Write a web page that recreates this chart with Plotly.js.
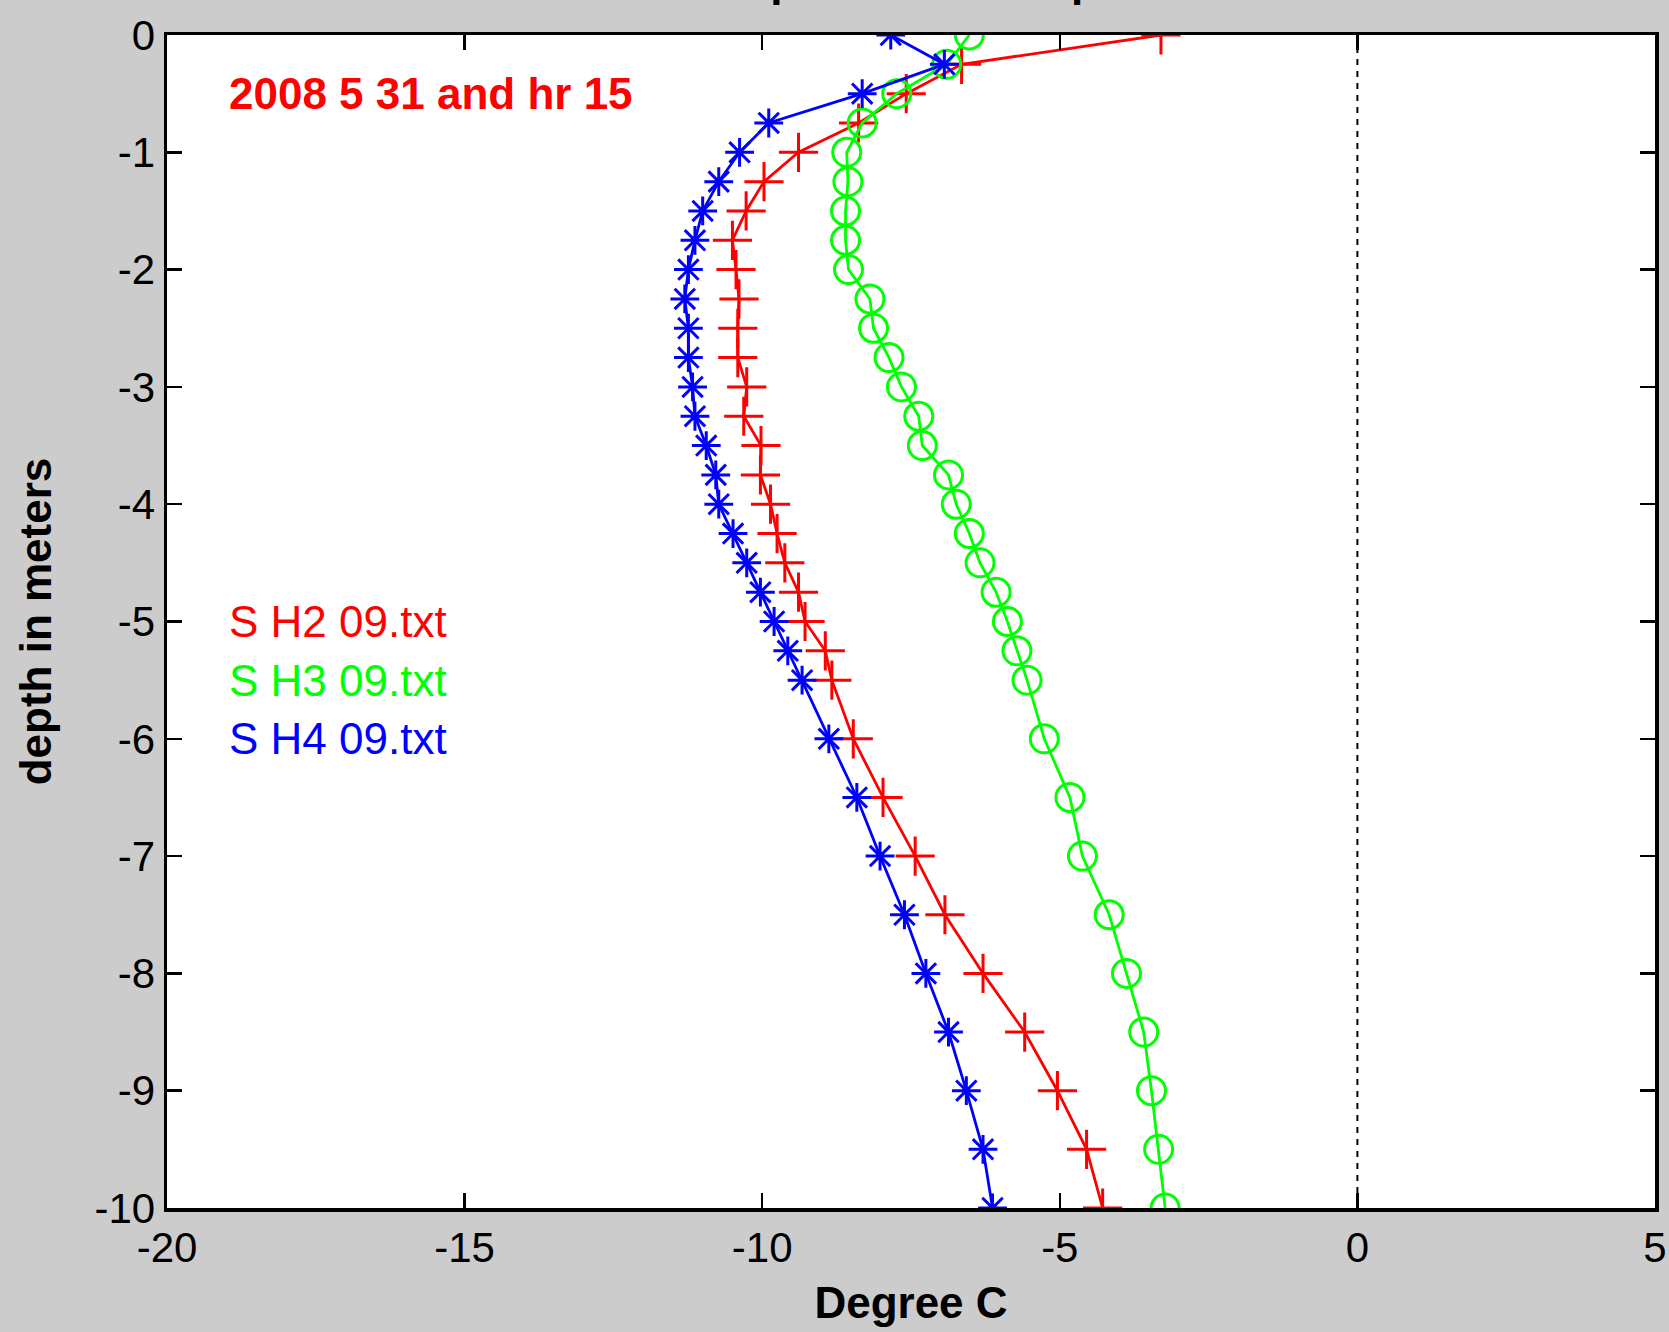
<!DOCTYPE html>
<html>
<head>
<meta charset="utf-8">
<script src="https://cdn.plot.ly/plotly-3.0.1.min.js"></script>
<style>html,body{margin:0;padding:0;background:#cccccc;}#chart{width:1669px;height:1332px;}</style>
</head>
<body>
<div id="chart"></div>
<script>
// depths (m)
const depth = [0,-0.25,-0.5,-0.75,-1,-1.25,-1.5,-1.75,-2,-2.25,-2.5,-2.75,-3,-3.25,-3.5,-3.75,-4,-4.25,-4.5,-4.75,-5,-5.25,-5.5,-6,-6.5,-7,-7.5,-8,-8.5,-9,-9.5,-10];
// temperatures (degree C)
const tempH2 = [-3.3,-6.65,-7.58,-8.38,-9.39,-9.97,-10.27,-10.5,-10.44,-10.39,-10.41,-10.41,-10.26,-10.31,-10.02,-10.03,-9.86,-9.75,-9.62,-9.39,-9.28,-8.94,-8.83,-8.47,-7.97,-7.43,-6.93,-6.29,-5.59,-5.04,-4.55,-4.28];
const tempH3 = [-6.52,-6.9,-7.74,-8.32,-8.58,-8.56,-8.6,-8.6,-8.55,-8.19,-8.13,-7.87,-7.66,-7.37,-7.31,-6.87,-6.74,-6.52,-6.34,-6.07,-5.88,-5.72,-5.55,-5.26,-4.83,-4.62,-4.17,-3.88,-3.59,-3.46,-3.34,-3.23];
const tempH4 = [-7.84,-6.94,-8.32,-9.89,-10.38,-10.73,-11.0,-11.13,-11.24,-11.3,-11.24,-11.24,-11.17,-11.13,-10.94,-10.78,-10.73,-10.49,-10.26,-10.03,-9.8,-9.57,-9.33,-8.88,-8.41,-8.02,-7.61,-7.25,-6.87,-6.57,-6.29,-6.13];
const seriesNames = ["S H2 09.txt","S H3 09.txt","S H4 09.txt"];
const seriesLabelDepths = [-5,-5.5,-6];
const seriesLabelX = -19;
const dateLabel = "2008 5 31 and hr 15";
const dateLabelPos = [-19,-0.5];
const zeroLineX = [0,0];
const zeroLineY = [0,-10];
const xTickVals = [-20,-15,-10,-5,0,5];
const xTickText = ["-20","-15","-10","-5","0","5"];
const yTickVals = [0,-1,-2,-3,-4,-5,-6,-7,-8,-9,-10];
const yTickText = ["0","-1","-2","-3","-4","-5","-6","-7","-8","-9","-10"];
const chartTitle = "Temperature vs depth";
const xTitle = "Degree C";
const yTitle = "depth in meters";

const colors = ["#ff0000","#00ff00","#0000ff"];
const FONT = "Liberation Sans, Arial, Helvetica, sans-serif";

const traces = [
  {x: zeroLineX, y: zeroLineY, mode: "lines", line: {color: "#000", width: 2, dash: "6px,6px"}, hoverinfo: "skip", showlegend: false},
  {x: tempH2, y: depth, name: seriesNames[0], mode: "lines+markers", line: {color: colors[0], width: 2.8},
   marker: {symbol: "cross-thin-open", size: 28, color: colors[0], line: {color: colors[0], width: 3}}},
  {x: tempH3, y: depth, name: seriesNames[1], mode: "lines+markers", line: {color: colors[1], width: 2.8},
   marker: {symbol: "circle-open", size: 28, color: colors[1], line: {color: colors[1], width: 3}}},
  {x: tempH4, y: depth, name: seriesNames[2], mode: "lines+markers", line: {color: colors[2], width: 2.8},
   marker: {symbol: "asterisk-open", size: 24, color: colors[2], line: {color: colors[2], width: 3}}}
];

const annotations = [
  {x: 0.5, y: 1.024, xref: "paper", yref: "paper", text: "<b>" + chartTitle + "</b>", showarrow: false,
   xanchor: "center", yanchor: "bottom", font: {family: FONT, size: 44, color: "#000"}},
  {x: dateLabelPos[0], y: dateLabelPos[1], xref: "x", yref: "y", text: "<b>" + dateLabel + "</b>", showarrow: false,
   xanchor: "left", yanchor: "middle", font: {family: FONT, size: 44, color: colors[0]}}
];
seriesNames.forEach((n, i) => {
  annotations.push({x: seriesLabelX, y: seriesLabelDepths[i], xref: "x", yref: "y", text: n, showarrow: false,
    xanchor: "left", yanchor: "middle", font: {family: FONT, size: 44, color: colors[i]}});
});

const layout = {
  width: 1669, height: 1332,
  margin: {l: 167, r: 14, t: 35, b: 124, pad: 0},
  paper_bgcolor: "#cccccc",
  plot_bgcolor: "#ffffff",
  showlegend: false,
  font: {family: FONT, size: 42, color: "#000"},
  xaxis: {
    range: [-20, 5], tickvals: xTickVals, ticktext: xTickText,
    ticks: "inside", ticklen: 15, tickwidth: 2.5, tickcolor: "#000",
    showline: true, linecolor: "#000", linewidth: 3.5, mirror: "ticks",
    showgrid: false, zeroline: false,
    tickfont: {family: FONT, size: 42, color: "#000"},
    title: {text: "<b>" + xTitle + "</b>", font: {family: FONT, size: 44, color: "#000"}, standoff: 18}
  },
  yaxis: {
    range: [-10, 0], tickvals: yTickVals, ticktext: yTickText,
    ticks: "inside", ticklen: 15, tickwidth: 2.5, tickcolor: "#000",
    showline: true, linecolor: "#000", linewidth: 3.5, mirror: "ticks",
    showgrid: false, zeroline: false,
    tickfont: {family: FONT, size: 42, color: "#000"},
    title: {text: "<b>" + yTitle + "</b>", font: {family: FONT, size: 44, color: "#000"}, standoff: 30}
  },
  annotations: annotations
};

Plotly.newPlot("chart", traces, layout, {displayModeBar: false, staticPlot: true});
</script>
</body>
</html>
